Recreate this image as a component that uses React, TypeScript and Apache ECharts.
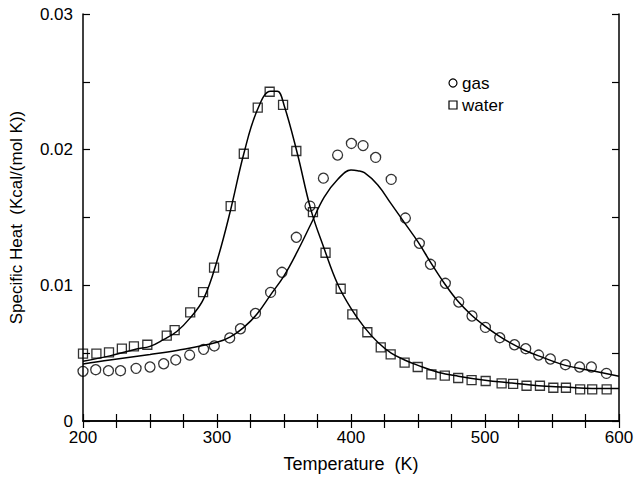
import React, { useEffect, useRef } from "react";
import * as echarts from "echarts";

const xTicks = [200, 300, 400, 500, 600];
const yTicks = ["0", "0.01", "0.02", "0.03"];

const gasT = [200, 209.5, 219, 228, 239.6, 250, 260.2, 269.2, 279.6, 290, 298, 309.5, 317.5, 328.7, 340, 348.5, 359.2, 369.4, 379.4, 390, 400.3, 409, 418.4, 430, 440.6, 451, 459.3, 470.4, 480.4, 490.3, 500.3, 511, 522, 530.4, 540, 548.8, 560, 570.6, 579.4, 590.6, 600.5];
const gasC = [0.00366, 0.00378, 0.00371, 0.00371, 0.00388, 0.00398, 0.00422, 0.0045, 0.00486, 0.00528, 0.00553, 0.00612, 0.0068, 0.00793, 0.00948, 0.01096, 0.01354, 0.01584, 0.0179, 0.0196, 0.02046, 0.0203, 0.01943, 0.01781, 0.01496, 0.0131, 0.01155, 0.01015, 0.00877, 0.00774, 0.0069, 0.00614, 0.00562, 0.00533, 0.00486, 0.00457, 0.00415, 0.00398, 0.00398, 0.00351, 0.00334];

const waterT = [200, 210, 219.4, 229, 238, 248, 262.5, 268.4, 280, 289.6, 297.8, 310.2, 320, 330.4, 339.3, 349.3, 359.2, 371.6, 381, 392.3, 401, 412.2, 422.2, 429.6, 440, 449.8, 460, 470, 480, 490, 500.5, 512.4, 521, 531, 541, 551, 560.4, 571, 580, 590.8];
const waterC = [0.00496, 0.00496, 0.00506, 0.00533, 0.0055, 0.00562, 0.00629, 0.0067, 0.008, 0.0095, 0.0113, 0.01584, 0.0197, 0.0231, 0.02427, 0.0233, 0.0199, 0.0154, 0.0124, 0.00975, 0.00786, 0.00654, 0.00543, 0.00491, 0.0043, 0.00398, 0.00344, 0.00334, 0.00317, 0.00302, 0.00295, 0.00278, 0.00273, 0.0026, 0.0026, 0.00245, 0.00245, 0.00233, 0.00233, 0.00233];

const waterFitT = [200, 220, 240, 250, 260, 270, 280, 290, 300, 310, 320, 330, 340, 345, 350, 360, 370, 380, 390, 400, 410, 420, 430, 440, 450, 465, 480, 500, 520, 540, 560, 580, 600];
const waterFitC = [0.0044, 0.0048, 0.0053, 0.0055, 0.006, 0.0066, 0.0076, 0.009, 0.0118, 0.0155, 0.0197, 0.0229, 0.0243, 0.0243, 0.0233, 0.0197, 0.0156, 0.0127, 0.0101, 0.0083, 0.0069, 0.0058, 0.005, 0.0045, 0.0041, 0.0036, 0.0033, 0.003, 0.0028, 0.0026, 0.0025, 0.0024, 0.0024];

const gasFitT = [200, 220, 250, 270, 300, 310, 320, 330, 340, 350, 360, 370, 380, 390, 400, 405, 410, 420, 430, 440, 450, 460, 470, 480, 490, 500, 510, 520, 530, 540, 560, 580, 600];
const gasFitC = [0.0042, 0.0045, 0.0049, 0.0052, 0.0058, 0.0062, 0.0069, 0.0079, 0.0093, 0.0107, 0.0125, 0.0145, 0.0165, 0.0178, 0.0185, 0.01845, 0.0183, 0.0174, 0.016, 0.0146, 0.0132, 0.0116, 0.0101, 0.0088, 0.0078, 0.007, 0.0063, 0.0057, 0.0052, 0.0048, 0.0041, 0.0037, 0.0033];

const legendNames = ["gas", "water"];

const FONT = "'Liberation Sans', Arial, Helvetica, sans-serif";

const zip = (a: number[], b: number[]) => a.map((v, i) => [v, b[i]]);

export default function App() {
  const ref = useRef<HTMLDivElement>(null);
  useEffect(() => {
    if (!ref.current) return;
    const chart = echarts.init(ref.current, undefined, { renderer: "svg" });
    const axisLine = { show: true, lineStyle: { color: "#000", width: 1.5 } };
    const tick = { show: true, inside: true, length: 7, lineStyle: { color: "#000", width: 1.2 } };
    const xFmt = (v: number) => (xTicks.indexOf(Math.round(v)) >= 0 && Math.abs(v - Math.round(v)) < 1e-6 ? String(Math.round(v)) : "");
    const yFmt = (v: number) => {
      const k = Math.round(v * 1000);
      if (k % 10 !== 0) return "";
      return yTicks[k / 10] ?? "";
    };
    const hollow = { color: "rgba(0,0,0,0)", borderColor: "#000", borderWidth: 1.3 };
    chart.setOption({
      animation: false,
      backgroundColor: "#fff",
      textStyle: { fontFamily: FONT },
      grid: { left: 83, right: 22, top: 14, bottom: 57 },
      xAxis: [
        {
          type: "value", min: 200, max: 600, interval: 25,
          name: "Temperature  (K)", nameLocation: "middle", nameGap: 34,
          nameTextStyle: { fontFamily: FONT, fontSize: 18, color: "#000" },
          axisLine, axisTick: tick, splitLine: { show: false },
          axisLabel: { formatter: xFmt, fontFamily: FONT, fontSize: 17, color: "#000", margin: 8, showMinLabel: true, showMaxLabel: true },
        },
        {
          type: "value", position: "top", min: 200, max: 600, interval: 25,
          axisLine, axisTick: tick, splitLine: { show: false }, axisLabel: { show: false },
        },
      ],
      yAxis: [
        {
          type: "value", min: 0, max: 0.03, interval: 0.005,
          name: "Specific Heat  (Kcal/(mol K))", nameLocation: "middle", nameGap: 58,
          nameTextStyle: { fontFamily: FONT, fontSize: 17, color: "#000" },
          axisLine, axisTick: tick, splitLine: { show: false },
          axisLabel: { formatter: yFmt, fontFamily: FONT, fontSize: 17, color: "#000", margin: 10 },
        },
        {
          type: "value", position: "right", min: 0, max: 0.03, interval: 0.005,
          axisLine, axisTick: tick, splitLine: { show: false }, axisLabel: { show: false },
        },
      ],
      series: [
        {
          name: "water fit", type: "line", smooth: 0.4, showSymbol: false, symbol: "none",
          data: zip(waterFitT, waterFitC), lineStyle: { color: "#000", width: 1.5 }, z: 2,
        },
        {
          name: "gas fit", type: "line", smooth: 0.4, showSymbol: false, symbol: "none",
          data: zip(gasFitT, gasFitC), lineStyle: { color: "#000", width: 1.5 }, z: 2,
        },
        {
          name: legendNames[1], type: "scatter", symbol: "rect", symbolSize: 9,
          data: zip(waterT, waterC), itemStyle: hollow, z: 3,
        },
        {
          name: legendNames[0], type: "scatter", symbol: "circle", symbolSize: 10,
          data: zip(gasT, gasC), itemStyle: hollow, z: 3,
        },
      ],
      graphic: [
        { type: "circle", shape: { cx: 453, cy: 83, r: 4 }, style: { fill: "none", stroke: "#000", lineWidth: 1.2 } },
        { type: "text", x: 462, y: 83, style: { text: legendNames[0], font: `17px ${FONT}`, fill: "#000", textVerticalAlign: "middle", verticalAlign: "middle" } },
        { type: "rect", shape: { x: 449, y: 101, width: 8, height: 8 }, style: { fill: "none", stroke: "#000", lineWidth: 1.2 } },
        { type: "text", x: 462, y: 105, style: { text: legendNames[1], font: `17px ${FONT}`, fill: "#000", textVerticalAlign: "middle", verticalAlign: "middle" } },
      ],
    });
    return () => chart.dispose();
  }, []);
  return <div ref={ref} style={{ position: "fixed", left: 0, top: 0, width: 641, height: 478, background: "#fff" }} />;
}
